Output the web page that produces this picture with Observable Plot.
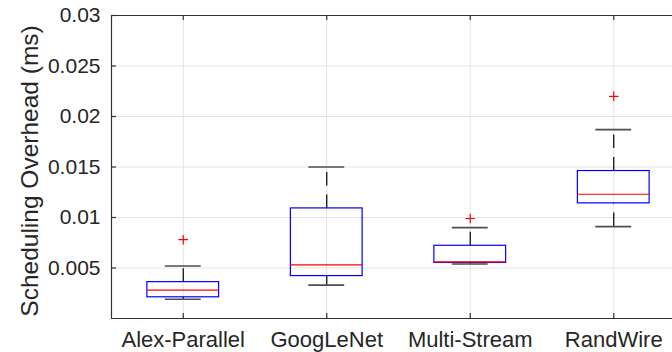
<!DOCTYPE html>
<html>
<head>
<meta charset="utf-8">
<script src="https://cdn.jsdelivr.net/npm/d3@7"></script>
<script src="https://cdn.jsdelivr.net/npm/@observablehq/plot@0.6"></script>
<style>
  html, body { margin: 0; padding: 0; background: #fff; }
</style>
</head>
<body>
<div id="chart"></div>
<script>
// ---- data ----
const categories = ["Alex-Parallel", "GoogLeNet", "Multi-Stream", "RandWire"];
const lowerWhisker = [0.0019, 0.0033, 0.0054, 0.0091];
const q1 = [0.0021, 0.0042, 0.0055, 0.0114];
const median = [0.0028, 0.0053, 0.0056, 0.0123];
const q3 = [0.0036, 0.0109, 0.0072, 0.0146];
const upperWhisker = [0.0052, 0.0150, 0.0090, 0.0187];
const outlierCategory = ["Alex-Parallel", "Multi-Stream", "RandWire"];
const outlierValue = [0.0078, 0.0099, 0.0220];
const yTicks = [0.005, 0.01, 0.015, 0.02, 0.025, 0.03];
const yLabel = "Scheduling Overhead (ms)";

// ---- tables built from arrays ----
const boxes = categories.map((c, i) => ({
  pos: i + 1, lo: lowerWhisker[i], q1: q1[i], med: median[i], q3: q3[i], hi: upperWhisker[i]
}));
const outliers = outlierCategory.map((c, i) => ({pos: categories.indexOf(c) + 1, v: outlierValue[i]}));
const positions = boxes.map(d => d.pos);

const boxHalf = 0.25, capHalf = 0.125, tickLenX = 0.035, tickLenY = 0.0005;
const axisColor = "#333333";
const gridColor = "#e3e3e3";
const font = "'Liberation Sans', Arial, Helvetica, sans-serif";

const plusSymbol = {
  draw(context, size) {
    const r = Math.sqrt(size / Math.PI);
    context.moveTo(-r, 0); context.lineTo(r, 0);
    context.moveTo(0, -r); context.lineTo(0, r);
  }
};

const chart = Plot.plot({
  width: 672,
  height: 352,
  marginLeft: 111,
  marginRight: 0,
  marginTop: 15,
  marginBottom: 34,
  style: {fontFamily: font, overflow: "hidden", background: "#fff"},
  x: {type: "linear", domain: [0.5, 4.5], range: [111, 685], axis: null},
  y: {domain: [0, 0.03], axis: null},
  marks: [
    // grid
    Plot.ruleY(yTicks.slice(0, -1), {y: d => d, stroke: gridColor, strokeWidth: 1}),
    Plot.ruleX(positions, {x: d => d, stroke: gridColor, strokeWidth: 1}),
    // frame lines (left, top, bottom)
    Plot.ruleY([0, 0.03], {y: d => d, stroke: axisColor, strokeWidth: 1.2}),
    Plot.ruleX([0.5], {x: d => d, stroke: axisColor, strokeWidth: 1.2}),
    // inward ticks
    Plot.ruleY(yTicks, {y: d => d, x1: 0.5, x2: 0.5 + tickLenX, stroke: axisColor, strokeWidth: 1.2}),
    Plot.ruleX(positions, {x: d => d, y1: 0, y2: tickLenY, stroke: axisColor, strokeWidth: 1.2}),
    Plot.ruleX(positions, {x: d => d, y1: 0.03 - tickLenY, y2: 0.03, stroke: axisColor, strokeWidth: 1.2}),
    // axis labels
    Plot.axisY(yTicks, {
      tickSize: 0, tickPadding: 11, tickFormat: d => String(d),
      fontSize: 21, fill: "#262626", label: null
    }),
    Plot.axisX(positions, {
      anchor: "bottom", tickSize: 0, tickPadding: 13, tickFormat: d => categories[d - 1],
      fontSize: 22, fill: "#262626", label: null
    }),
    Plot.text([yLabel], {
      text: d => d, frameAnchor: "left", textAnchor: "middle", lineAnchor: "middle",
      rotate: -90, dx: -81, dy: 4, fontSize: 24.5, fill: "#262626"
    }),
    // whiskers (dashed, drawn from lower to higher value)
    Plot.ruleX(boxes, {x: "pos", y1: "lo", y2: "q1", stroke: "#000", strokeWidth: 1.2, strokeDasharray: "13.5,9"}),
    Plot.ruleX(boxes, {x: "pos", y1: "q3", y2: "hi", stroke: "#000", strokeWidth: 1.2, strokeDasharray: "13.5,9"}),
    // caps
    Plot.ruleY(boxes, {y: "lo", x1: d => d.pos - capHalf, x2: d => d.pos + capHalf, stroke: "#4d4d4d", strokeWidth: 1.6}),
    Plot.ruleY(boxes, {y: "hi", x1: d => d.pos - capHalf, x2: d => d.pos + capHalf, stroke: "#4d4d4d", strokeWidth: 1.6}),
    // boxes
    Plot.rect(boxes, {x1: d => d.pos - boxHalf, x2: d => d.pos + boxHalf, y1: "q1", y2: "q3", fill: "none", stroke: "#0000ff", strokeWidth: 1.2}),
    // medians
    Plot.ruleY(boxes, {y: "med", x1: d => d.pos - boxHalf, x2: d => d.pos + boxHalf, stroke: "#ff0000", strokeWidth: 1.2}),
    // outliers
    Plot.dot(outliers, {x: "pos", y: "v", symbol: plusSymbol, r: 4.8, stroke: "#ff0000", fill: "none", strokeWidth: 1.2})
  ]
});
document.getElementById("chart").appendChild(chart);
</script>
</body>
</html>
